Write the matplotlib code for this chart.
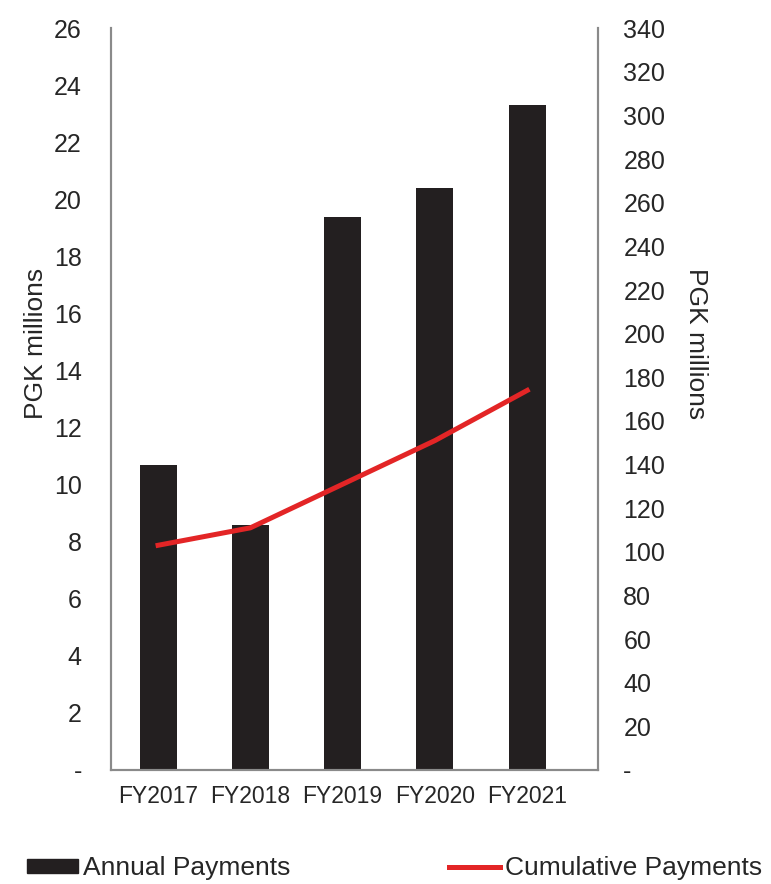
import matplotlib
matplotlib.use("Agg")
import matplotlib.pyplot as plt
from matplotlib.patches import Patch
from matplotlib.lines import Line2D

plt.rcParams['font.family'] = ['Liberation Sans', 'DejaVu Sans']

# data
years = ['FY2017', 'FY2018', 'FY2019', 'FY2020', 'FY2021']
annual = [10.7, 8.6, 19.4, 20.4, 23.3]
cumulative = [103, 111, 131, 151, 174]

left_ticks = list(range(0, 27, 2))
right_ticks = list(range(0, 341, 20))

txt = '#262626'
spine_col = '#8a8a8a'

fig = plt.figure(figsize=(7.71, 8.84), dpi=100)
ax = fig.add_axes([0.144, 0.129, 0.632, 0.839])
x = range(len(years))
ax.bar(x, annual, width=0.4, color='#231f20', zorder=2)
ax.set_xlim(-0.51, 4.77)
ax.set_ylim(0, 26)
ax.set_yticks(left_ticks)
ax.set_yticklabels(['-' if t == 0 else str(t) for t in left_ticks])
ax.set_xticks(list(x))
ax.set_xticklabels(years)
ax.tick_params(axis='both', length=0, colors=txt, labelsize=18)
ax.tick_params(axis='y', pad=21)
ax.tick_params(axis='x', pad=11, labelsize=16.5)
ax.set_ylabel('PGK millions', fontsize=19, color=txt)
ax.yaxis.set_label_coords(-0.13, 0.575)

ax2 = ax.twinx()
ax2.plot(x, cumulative, color='#e32526', linewidth=3.6, zorder=3)
ax2.set_ylim(0, 340)
ax2.set_yticks(right_ticks)
ax2.set_yticklabels(['-' if t == 0 else str(t) for t in right_ticks])
ax2.tick_params(axis='y', length=0, colors=txt, labelsize=18, pad=18)
ax2.set_ylabel('PGK millions', fontsize=19, color=txt, rotation=-90, va='center')
ax2.yaxis.set_label_coords(1.2, 0.575)

for a in (ax, ax2):
    a.spines['top'].set_visible(False)
    for s in ('left', 'right', 'bottom'):
        a.spines[s].set_color(spine_col)
        a.spines[s].set_linewidth(1.5)

# legend below the plot
handles = [Patch(color='#231f20'), Line2D([0], [0], color='#e32526', linewidth=3.6)]
fig.legend(handles, ['Annual Payments', 'Cumulative Payments'],
           loc='center left', bbox_to_anchor=(0.035, 0.018), ncol=2, frameon=False,
           fontsize=19, handlelength=1.93, handleheight=0.46, handletextpad=0.2,
           columnspacing=6.0, labelcolor=txt, borderaxespad=0, borderpad=0)

fig.savefig('out.png', dpi=100)
